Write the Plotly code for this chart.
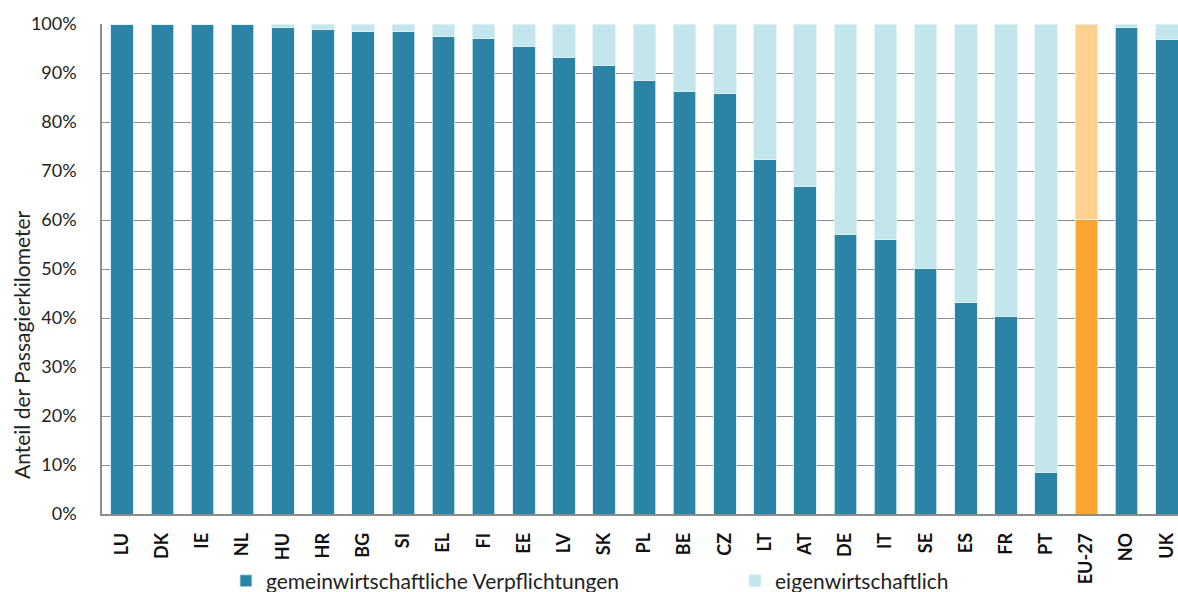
import plotly.graph_objects as go

# Anteil der Passagierkilometer (%), gemeinwirtschaftlich vs. eigenwirtschaftlich
laender = ["LU", "DK", "IE", "NL", "HU", "HR", "BG", "SI", "EL", "FI", "EE", "LV", "SK", "PL",
           "BE", "CZ", "LT", "AT", "DE", "IT", "SE", "ES", "FR", "PT", "EU-27", "NO", "UK"]
gemein = [100.0, 100.0, 100.0, 99.8, 99.2, 98.9, 98.4, 98.4, 97.4, 97.0, 95.5, 93.2, 91.5, 88.5,
          86.3, 85.8, 72.3, 66.9, 57.0, 56.0, 50.2, 43.1, 40.4, 8.4, 60.2, 99.2, 96.9]
eigen = [0.0, 0.0, 0.0, 0.2, 0.8, 1.1, 1.6, 1.6, 2.6, 3.0, 4.5, 6.8, 8.5, 11.5,
         13.7, 14.2, 27.7, 33.1, 43.0, 44.0, 49.8, 56.9, 59.6, 91.6, 39.8, 0.8, 3.1]
y_ticks = [0, 10, 20, 30, 40, 50, 60, 70, 80, 90, 100]

DARK = "#2b84a5"
LIGHT = "#c3e5ec"
ORANGE = "#f9a530"
ORANGE_LIGHT = "#fed191"

farbe1 = [ORANGE if l == "EU-27" else DARK for l in laender]
farbe2 = [ORANGE_LIGHT if l == "EU-27" else LIGHT for l in laender]

fig = go.Figure()
fig.add_bar(x=laender, y=gemein, name="gemeinwirtschaftliche Verpflichtungen",
            marker=dict(color=farbe1, line=dict(color="#d6edf2", width=0.8)),
            legend="legend")
fig.add_bar(x=laender, y=eigen, name="eigenwirtschaftlich",
            marker=dict(color=farbe2, line=dict(color="#e4f3f6", width=0.8)),
            legend="legend2")

leg = dict(orientation="h", y=-0.137, yanchor="middle", xanchor="left", itemwidth=30,
           bgcolor="rgba(0,0,0,0)", font=dict(size=21, color="#222"))

fig.update_layout(
    barmode="stack",
    bargap=0.44,
    width=1178, height=592,
    margin=dict(l=102, r=0, t=24, b=78, autoexpand=False),
    plot_bgcolor="white",
    paper_bgcolor="white",
    font=dict(family="Lato, Open Sans, sans-serif", size=18, color="#222"),
    showlegend=True,
    legend=dict(leg, x=0.1152),
    legend2=dict(leg, x=0.5883),
)
fig.update_xaxes(range=[-0.5, 26.28], tickangle=-90, showline=True, linecolor="#8c8c8c",
                 linewidth=1.5, ticks="", tickfont=dict(size=18, color="#111", weight="bold"),
                 ticklabelstandoff=10, automargin=False)
fig.update_yaxes(range=[0, 100], tickvals=y_ticks, ticktext=[f"{v}%" for v in y_ticks],
                 showgrid=True, gridcolor="#8c8c8c", gridwidth=1.3, showline=True,
                 linecolor="#8c8c8c", linewidth=1.5, ticks="", ticklabelstandoff=20,
                 tickfont=dict(size=18, color="#222"), zeroline=False, automargin=False)

fig.add_annotation(text="Anteil der Passagierkilometer", textangle=-90, showarrow=False,
                   xref="paper", yref="paper", x=-0.0743, y=0.345,
                   xanchor="center", yanchor="middle", font=dict(size=21, color="#222"))

fig.write_html("out.html", config={"displayModeBar": False},
               post_script="document.body.style.margin='0';")
